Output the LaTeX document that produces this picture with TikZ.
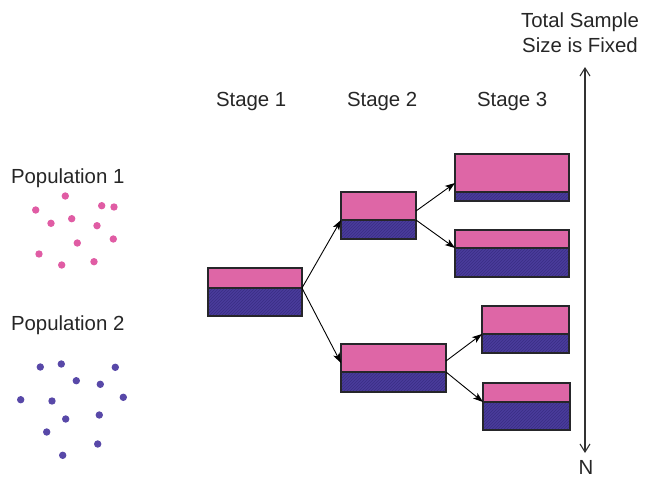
\documentclass[tikz,border=0pt]{standalone}
\usepackage{fontspec}
\setmainfont{Liberation Sans}
\usetikzlibrary{arrows.meta,patterns}
\definecolor{boxpink}{RGB}{222,102,166}
\definecolor{boxblue}{RGB}{74,60,155}
\definecolor{hatch}{RGB}{58,46,132}
\definecolor{edge}{RGB}{38,38,42}
\definecolor{pdot}{RGB}{224,92,164}
\definecolor{bdot}{RGB}{88,72,168}
\definecolor{axcol}{RGB}{50,50,50}
\tikzset{
  bx/.style={draw=edge, line width=1.2pt, inner sep=0pt, outer sep=0pt, anchor=north west},
  pk/.style={bx, fill=boxpink},
  bl/.style={bx, preaction={fill=boxblue}, pattern=north east lines, pattern color=hatch},
  arr/.style={-{Stealth[length=10pt,width=7pt,inset=2.5pt]}, line width=0.9pt, black},
  axis/.style={{Straight Barb[length=8pt,width=10pt,line width=1.1pt]}-{Straight Barb[length=8pt,width=10pt,line width=1.1pt]}, line width=1.2pt, axcol},
  txt/.style={inner sep=0pt, outer sep=0pt, text=black!85, font=\fontsize{20.4}{24.5}\selectfont},
  pd/.style={fill=pdot},
  bd/.style={fill=bdot}
}
\begin{document}
\begin{tikzpicture}[x=1pt,y=-1pt]
\useasboundingbox (0,0) rectangle (646,477);

% labels
\node[txt, anchor=base west] (pop1) at (11,183) {Population 1};
\node[txt, anchor=base west] (pop2) at (11,330) {Population 2};
\node[txt, anchor=base west] (st1) at (216,106) {Stage 1};
\node[txt, anchor=base west] (st2) at (347,106) {Stage 2};
\node[txt, anchor=base west] (st3) at (477,106) {Stage 3};
\node[txt, anchor=base] (tot1) at (580,27.5) {Total Sample};
\node[txt, anchor=base] (tot2) at (580,52) {Size is Fixed};
\node[txt, anchor=base] (nlab) at (586,474) {N};

% population 1 dots
\foreach \p in {(65.3,196),(35.7,210),(101.7,205.7),(114,207),(51,223.3),(71.7,218.7),(97,225.7),(77.3,243),(113.3,239),(39,254),(61.7,265),(94,261.7)}
  \fill[pd] \p circle (3.7);
% population 2 dots
\foreach \p in {(40.3,367),(61.3,364),(115.3,367.3),(76.3,380.7),(100.3,384.3),(20.7,399.7),(52,401),(123.3,397.3),(65.7,419),(99.3,415),(46.7,432),(97.7,444),(62.7,455.3)}
  \fill[bd] \p circle (3.7);

% stage 1
\node[bl, minimum width=94, minimum height=28] (s1b) at (208,288) {};
\node[pk, minimum width=94, minimum height=20] (s1p) at (208,268) {};
% stage 2
\node[bl, minimum width=75, minimum height=19] (s2ab) at (341,220) {};
\node[pk, minimum width=75, minimum height=28] (s2ap) at (341,192) {};
\node[bl, minimum width=105, minimum height=20] (s2bb) at (341,372) {};
\node[pk, minimum width=105, minimum height=28] (s2bp) at (341,344) {};
% stage 3
\node[bl, minimum width=114, minimum height=9] (Ab) at (455,192) {};
\node[pk, minimum width=114, minimum height=38] (Ap) at (455,154) {};
\node[bl, minimum width=114, minimum height=29] (Bb) at (455,248) {};
\node[pk, minimum width=114, minimum height=18] (Bp) at (455,230) {};
\node[bl, minimum width=87, minimum height=19] (Cb) at (482,334) {};
\node[pk, minimum width=87, minimum height=28] (Cp) at (482,306) {};
\node[bl, minimum width=87, minimum height=28] (Db) at (483,402) {};
\node[pk, minimum width=87, minimum height=19] (Dp) at (483,383) {};

% connectors
\draw[arr] (s1b.north east) -- (s2ab.north west);
\draw[arr] (s1b.north east) -- ([yshift=9pt]s2bp.south west);
\draw[arr] ([yshift=9pt]s2ap.south east) -- ([yshift=9pt]Ap.south west);
\draw[arr] (s2ab.north east) -- (Bb.north west);
\draw[arr] ([yshift=11pt]s2bp.south east) -- (Cb.north west);
\draw[arr] (s2bb.north east) -- (Db.north west);

% axis
\coordinate (axtop) at (585,67);
\coordinate (axbot) at (585,453);
\draw[axis] (axtop) -- (axbot);
\end{tikzpicture}
\end{document}
